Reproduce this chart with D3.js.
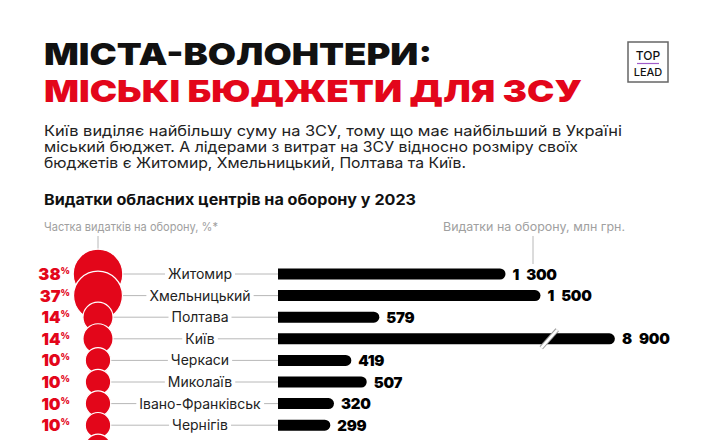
<!DOCTYPE html>
<html>
<head>
<meta charset="utf-8">
<script src="https://cdn.jsdelivr.net/npm/d3@7"></script>
<style>
  body { margin: 0; background: #fff; }
  svg { display: block; }
  text { font-family: Inter, "Noto Sans", sans-serif; white-space: pre; }
</style>
</head>
<body>
<div id="chart"></div>
<script>
// data
const cities = ["Житомир", "Хмельницький", "Полтава", "Київ", "Черкаси", "Миколаїв", "Івано-Франківськ", "Чернігів", ""];
const share = [38, 37, 14, 14, 10, 10, 10, 10, 10];          // % of budget spent on defence
const spend = [1300, 1500, 579, 8900, 419, 507, 320, 299, null]; // млн грн
const spendLabels = ["1 300", "1 500", "579", "8 900", "419", "507", "320", "299", ""];
const spendCap = 1925;   // bars beyond this are drawn broken
const breakAt = 1550;    // where the break mark sits

const W = 710, H = 440;
const red = "#e3061a";
const grey = "#b8b8b8";

const svg = d3.select("#chart").append("svg")
  .attr("width", W)
  .attr("height", H);

// stretch a text to the width seen in the picture
function stretch(sel, width, mode) {
  return sel.attr("textLength", width).attr("lengthAdjust", mode || "spacingAndGlyphs");
}

// title
stretch(svg.append("text").attr("x", 44).attr("y", 65)
  .attr("font-size", 30.5).attr("font-weight", 900).attr("fill", "#111")
  .text("МІСТА-ВОЛОНТЕРИ:"), 388);
stretch(svg.append("text").attr("x", 44).attr("y", 102)
  .attr("font-size", 30.5).attr("font-weight", 900).attr("fill", red)
  .text("МІСЬКІ БЮДЖЕТИ ДЛЯ ЗСУ"), 538);

// logo
const logo = svg.append("g").attr("transform", "translate(628,42)");
logo.append("rect").attr("width", 40).attr("height", 40)
  .attr("fill", "none").attr("stroke", "#666").attr("stroke-width", 1.5);
logo.append("text").attr("x", 20).attr("y", 18).attr("text-anchor", "middle")
  .attr("font-size", 12).attr("font-weight", 500).attr("fill", "#111").text("TOP");
logo.append("line").attr("x1", 9).attr("x2", 31).attr("y1", 21.5).attr("y2", 21.5)
  .attr("stroke", "#a05cc8").attr("stroke-width", 1.2);
logo.append("text").attr("x", 20).attr("y", 34).attr("text-anchor", "middle")
  .attr("font-size", 11).attr("font-weight", 500).attr("fill", "#111").text("LEAD");

// intro paragraph
const para = [
  ["Київ виділяє найбільшу суму на ЗСУ, тому що має найбільший в Україні", 578],
  ["міський бюджет. А лідерами з витрат на ЗСУ відносно розміру своїх", 534],
  ["бюджетів є Житомир, Хмельницький, Полтава та Київ.", 422]
];
para.forEach((p, i) => {
  stretch(svg.append("text").attr("x", 44).attr("y", 136 + i * 16)
    .attr("font-size", 14.5).attr("fill", "#222")
    .text(p[0]), p[1]);
});

// chart title and column headers
stretch(svg.append("text").attr("x", 44).attr("y", 205)
  .attr("font-size", 15).attr("font-weight", 700).attr("fill", "#111")
  .text("Видатки обласних центрів на оборону у 2023"), 372);
stretch(svg.append("text").attr("x", 44).attr("y", 231)
  .attr("font-size", 12).attr("fill", "#a0a0a0")
  .text("Частка видатків на оборону, %*"), 174);
stretch(svg.append("text").attr("x", 443).attr("y", 231)
  .attr("font-size", 12).attr("fill", "#a0a0a0")
  .text("Видатки на оборону, млн грн."), 182);

// scales
const rows = d3.range(cities.length);
const y = d3.scalePoint().domain(rows).range([274, 274 + 21.6 * (rows.length - 1)]);
const r = d3.scaleSqrt().domain([0, 38]).range([0, 24.8]);
const x = d3.scaleLinear().domain([0, 1500]).range([278, 540.5]);
const cx = 98;
const shown = rows.filter(i => spend[i] != null);

// header ticks
svg.append("line").attr("x1", cx).attr("x2", cx).attr("y1", 236).attr("y2", 250)
  .attr("stroke", grey);
svg.append("line").attr("x1", 533).attr("x2", 533).attr("y1", 236).attr("y2", 264)
  .attr("stroke", grey);

// connector lines
svg.append("g").selectAll("line")
  .data(shown)
  .join("line")
  .attr("x1", cx).attr("x2", x(0))
  .attr("y1", i => y(i)).attr("y2", i => y(i))
  .attr("stroke", grey).attr("stroke-width", 1);

// city labels with white gap behind
const lab = svg.append("g").selectAll("g")
  .data(shown)
  .join("g");
lab.append("rect").attr("fill", "#fff");
lab.append("text")
  .attr("x", 200).attr("y", i => y(i) + 5)
  .attr("text-anchor", "middle")
  .attr("font-size", 14).attr("fill", "#222")
  .text(i => cities[i]);
lab.each(function () {
  const b = d3.select(this).select("text").node().getBBox();
  d3.select(this).select("rect")
    .attr("x", b.x - 3).attr("y", b.y).attr("width", b.width + 6).attr("height", b.height);
});

// circles, later ones on top
svg.append("g").selectAll("circle")
  .data(rows)
  .join("circle")
  .attr("cx", cx).attr("cy", i => y(i))
  .attr("r", i => r(share[i]))
  .attr("fill", red)
  .attr("stroke", "#fff").attr("stroke-width", 1.2);

// percent labels
const pct = svg.append("g").selectAll("text")
  .data(shown)
  .join("text")
  .attr("x", 70).attr("y", i => y(i) + 6)
  .attr("text-anchor", "end")
  .attr("font-weight", 900).attr("fill", red);
pct.append("tspan").attr("font-size", 16.5).text(i => share[i]);
pct.append("tspan").attr("font-size", 9).attr("dy", -6).text("%");

// bars with rounded right end
const bh = 11;
function barEnd(i) { return x(Math.min(spend[i], spendCap)); }
svg.append("g").selectAll("path")
  .data(shown)
  .join("path")
  .attr("d", i => {
    const y0 = y(i) - bh / 2, xe = barEnd(i);
    return `M${x(0)},${y0}H${xe - bh / 2}A${bh / 2},${bh / 2} 0 0 1 ${xe - bh / 2},${y0 + bh}H${x(0)}Z`;
  })
  .attr("fill", "#000");

// break mark on bars beyond the cap
const broken = rows.filter(i => spend[i] > spendCap);
const brk = svg.append("g").selectAll("g").data(broken).join("g")
  .attr("transform", i => `translate(${x(breakAt)},${y(i)})`);
brk.append("line").attr("x1", -8).attr("y1", 9).attr("x2", 8).attr("y2", -9)
  .attr("stroke", "#999").attr("stroke-width", 4.5);
brk.append("line").attr("x1", -8).attr("y1", 9).attr("x2", 8).attr("y2", -9)
  .attr("stroke", "#fff").attr("stroke-width", 2.5);

// value labels
svg.append("g").selectAll("text")
  .data(shown)
  .join("text")
  .attr("x", i => barEnd(i) + 7).attr("y", i => y(i) + 5.5)
  .attr("font-size", 15).attr("font-weight", 900).attr("fill", "#000")
  .attr("letter-spacing", -0.3)
  .text(i => spendLabels[i].replace(" ", "\u2002"));
</script>
</body>
</html>
